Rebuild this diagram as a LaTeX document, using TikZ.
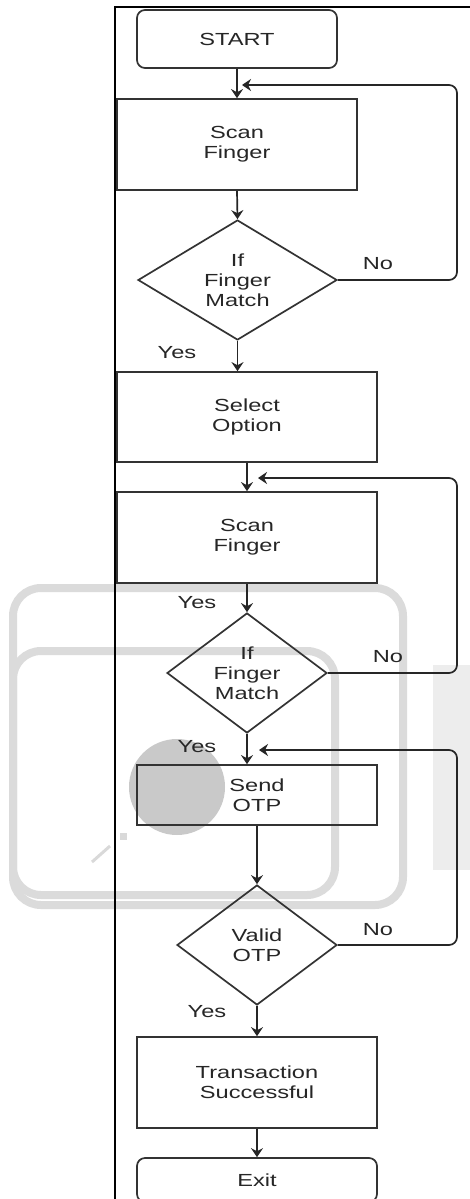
\documentclass[tikz,border=0pt]{standalone}
\usepackage{fontspec}
\setmainfont[FakeStretch=1.35]{Liberation Sans}
\usetikzlibrary{shapes.geometric,arrows.meta}
\newcommand\flowfont{\fontsize{17.5}{20}\selectfont}
\begin{document}
\begin{tikzpicture}[x=1pt,y=-1pt,
  base/.style={draw=black!80, line width=1.7pt, inner sep=0pt, align=center, text=black!85, font=\flowfont},
  procbox/.style={base, rectangle},
  termbox/.style={base, rectangle, rounded corners=8pt},
  decbox/.style={base, diamond},
  lab/.style={text=black!85, font=\flowfont, inner sep=0pt},
  arr/.style={draw=black!85, line width=1.7pt, -{Stealth[length=9pt,width=12pt,inset=3pt]}},
  loopline/.style={arr, rounded corners=8pt},
  wm/.style={draw=gray!28, line width=8pt, rounded corners=28pt}
]
\useasboundingbox (0,0) rectangle (470,1199);
\clip (0,0) rectangle (470,1199);
\fill[white] (0,0) rectangle (470,1199);

% watermark
\draw[wm] (13,588) rectangle (403,905);
\draw[wm] (13,651) rectangle (335,895);
\fill[gray!14] (433,665) rectangle (470,870);
\fill[gray!42] (177,787) circle (48);
\draw[gray!30, line width=3pt] (92,862) -- (110,846);
\fill[gray!30] (120,833) rectangle (127,840);

% frame
\draw[black, line width=2pt] (470,7) -- (115,7) -- (115,1210);

% nodes
\node[termbox, minimum width=200pt, minimum height=58pt] (start) at (237,39) {START};
\node[procbox, minimum width=240pt, minimum height=91pt] (scan1) at (237,144.5) {Scan\\Finger};
\node[decbox, minimum width=199pt, minimum height=120pt] (dec1) at (237.5,280) {If\\Finger\\Match};
\node[procbox, minimum width=260pt, minimum height=90pt] (sel) at (247,417) {Select\\Option};
\node[procbox, minimum width=260pt, minimum height=91pt] (scan2) at (247,537.5) {Scan\\Finger};
\node[decbox, minimum width=160pt, minimum height=120pt] (dec2) at (247,673) {If\\Finger\\Match};
\node[procbox, minimum width=240pt, minimum height=60pt] (otp) at (257,795) {Send\\OTP};
\node[decbox, minimum width=160pt, minimum height=120pt] (dec3) at (257,945) {Valid\\OTP};
\node[procbox, minimum width=240pt, minimum height=91pt] (trans) at (257,1082.5) {Transaction\\Successful};
\node[termbox, minimum width=240pt, minimum height=44pt] (exit) at (257,1180) {Exit};

% labels
\node[lab] (no1) at (378,264) {No};
\node[lab] (yes1) at (177,353) {Yes};
\node[lab] (yes2) at (197,603) {Yes};
\node[lab] (no2) at (388,657) {No};
\node[lab] (yes3) at (197,747) {Yes};
\node[lab] (no3) at (378,930) {No};
\node[lab] (yes4) at (207,1012) {Yes};

% main flow
\draw[arr] (start.south) -- (scan1.north);
\draw[arr] (scan1.south) -- (dec1.north);
\draw[arr] (dec1.south) -- (dec1.south |- sel.north);
\draw[arr] (sel.south) -- (scan2.north);
\draw[arr] (scan2.south) -- (dec2.north);
\draw[arr] (dec2.south) -- (dec2.south |- otp.north);
\draw[arr] (otp.south) -- (dec3.north);
\draw[arr] (dec3.south) -- (trans.north);
\draw[arr] (trans.south) -- (exit.north);

% loops
\coordinate (c1) at (457,85);
\coordinate (t1) at (242,85);
\draw[loopline] (dec1.east) -| (c1) -- (t1);
\coordinate (c2) at (457,478);
\coordinate (t2) at (258,478);
\draw[loopline] (dec2.east) -| (c2) -- (t2);
\coordinate (c3) at (457,750);
\coordinate (t3) at (259,750);
\draw[loopline] (dec3.east) -| (c3) -- (t3);
\end{tikzpicture}
\end{document}
